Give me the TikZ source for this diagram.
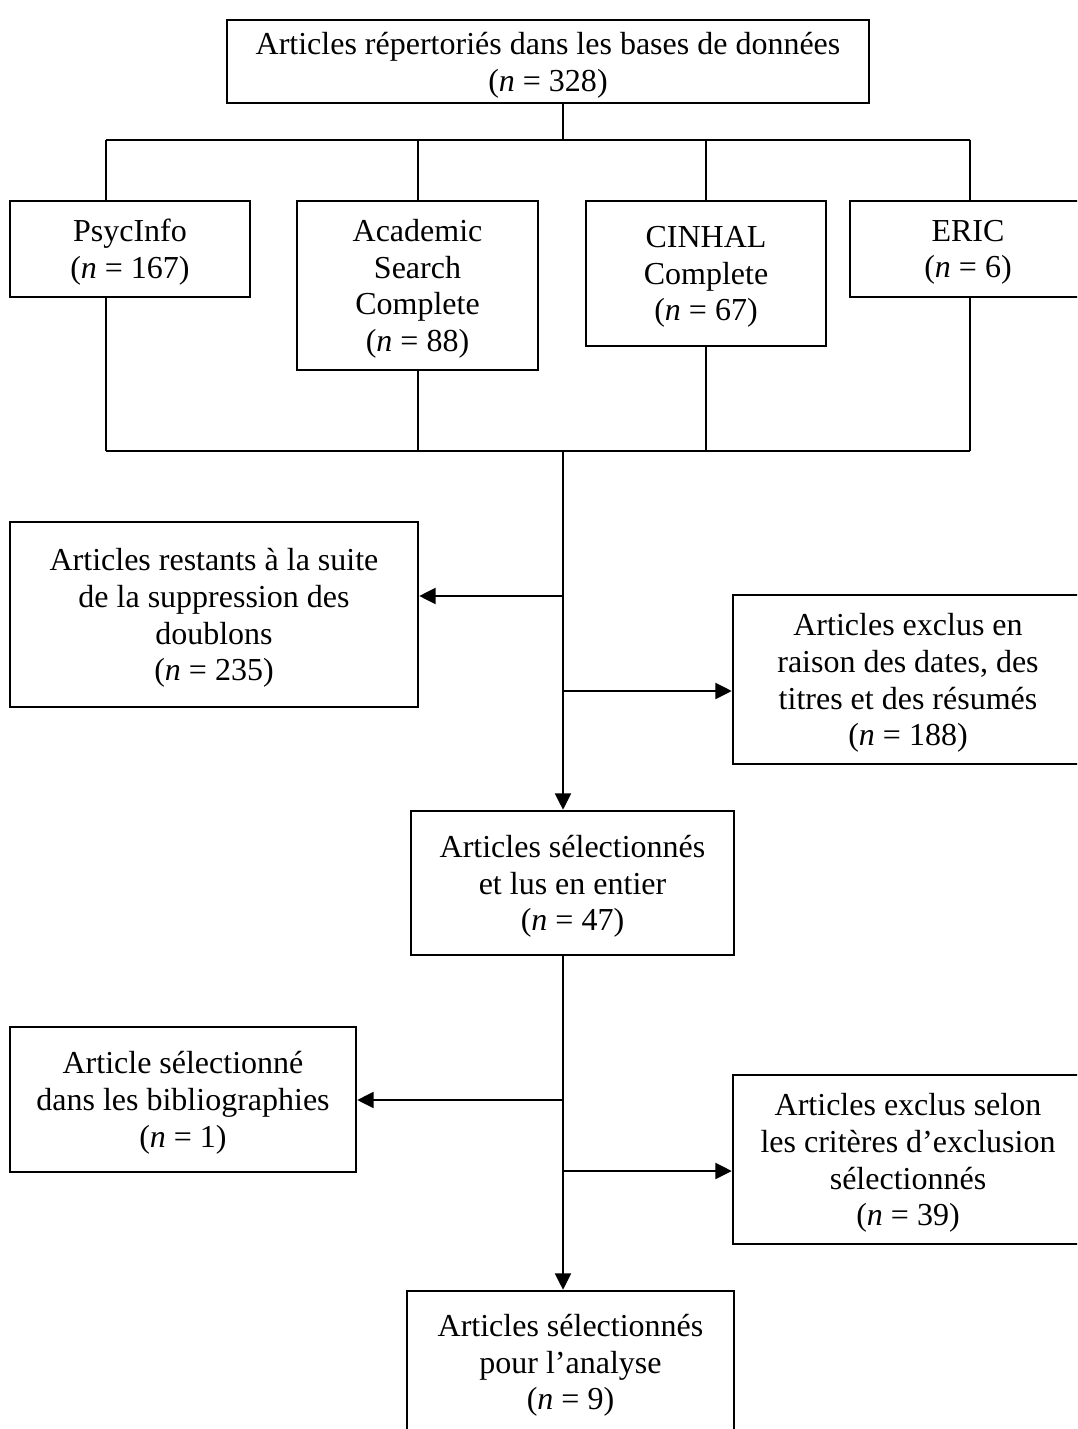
\documentclass[tikz,border=0pt]{standalone}
\usepackage{fontspec}
\setmainfont{Liberation Serif}
\usetikzlibrary{positioning,arrows.meta}
\newcommand{\pxu}{0.375pt}

\begin{document}
\begin{tikzpicture}[x=0.375pt, y=-0.375pt, line width=0.9pt,
  box/.style 2 args={draw, rectangle, align=center, inner sep=0pt, text depth=0pt,
    minimum width=#1*\pxu, minimum height=#2*\pxu, font=\fontsize{12}{13.8}\selectfont},
  arr/.style={-{Triangle[length=6.2pt, width=6pt]}}]
\fill[white] (0,0) rectangle (1077,1429);
\useasboundingbox (0,0) rectangle (1077,1429);
\clip (0,0) rectangle (1077,1429);

\node[box={642}{83}] (bases) at (548,61.5) {Articles répertoriés dans les bases de données\\(\textit{n} = 328)};
\node[box={240}{96}] (psyc) at (130,249) {PsycInfo\\(\textit{n} = 167)};
\node[box={241}{169}] (acad) at (417.5,285.5) {Academic\\Search\\Complete\\(\textit{n} = 88)};
\node[box={240}{145}] (cinhal) at (706,273.5) {CINHAL\\Complete\\(\textit{n} = 67)};
\node[box={236}{96}] (eric) at (968,249) {ERIC\\(\textit{n} = 6)};
\node[box={408}{185}] (restants) at (214,614.5) {Articles restants à la suite\\de la suppression des\\doublons\\(\textit{n} = 235)};
\node[box={350}{169}] (exclus) at (908,679.5) {Articles exclus en\\raison des dates, des\\titres et des résumés\\(\textit{n} = 188)};
\node[box={323}{144}] (lus) at (572.5,883) {Articles sélectionnés\\et lus en entier\\(\textit{n} = 47)};
\node[box={346}{145}] (biblio) at (183,1099.5) {Article sélectionné\\dans les bibliographies\\(\textit{n} = 1)};
\node[box={350}{169}] (criteres) at (908,1159.5) {Articles exclus selon\\les critères d’exclusion\\sélectionnés\\(\textit{n} = 39)};
\node[box={327}{142}] (analyse) at (570.5,1362) {Articles sélectionnés\\pour l’analyse\\(\textit{n} = 9)};

\coordinate (split) at (563,140);
\coordinate (merge) at (563,451);
\coordinate (left1) at (563,596);
\coordinate (right1) at (563,691);
\coordinate (left2) at (563,1100);
\coordinate (right2) at (563,1171);

\draw (bases.south -| split) -- (split);
\foreach \b/\x in {psyc/106,acad/418,cinhal/706,eric/970} {
  \coordinate (top-\b) at (\x,140);
  \coordinate (bot-\b) at (\x,451);
  \draw (top-\b) -- (top-\b |- \b.north);
  \draw (\b.south -| bot-\b) -- (bot-\b);
}
\draw (top-psyc) -- (top-eric);
\draw (bot-psyc) -- (bot-eric);

\draw[arr] (merge) -- (merge |- lus.north);
\draw[arr] (left1) -- (left1 -| restants.east);
\draw[arr] (right1) -- (right1 -| exclus.west);
\draw[arr] (lus.south -| merge) -- (analyse.north -| merge);
\draw[arr] (left2) -- (left2 -| biblio.east);
\draw[arr] (right2) -- (right2 -| criteres.west);
\end{tikzpicture}
\end{document}
